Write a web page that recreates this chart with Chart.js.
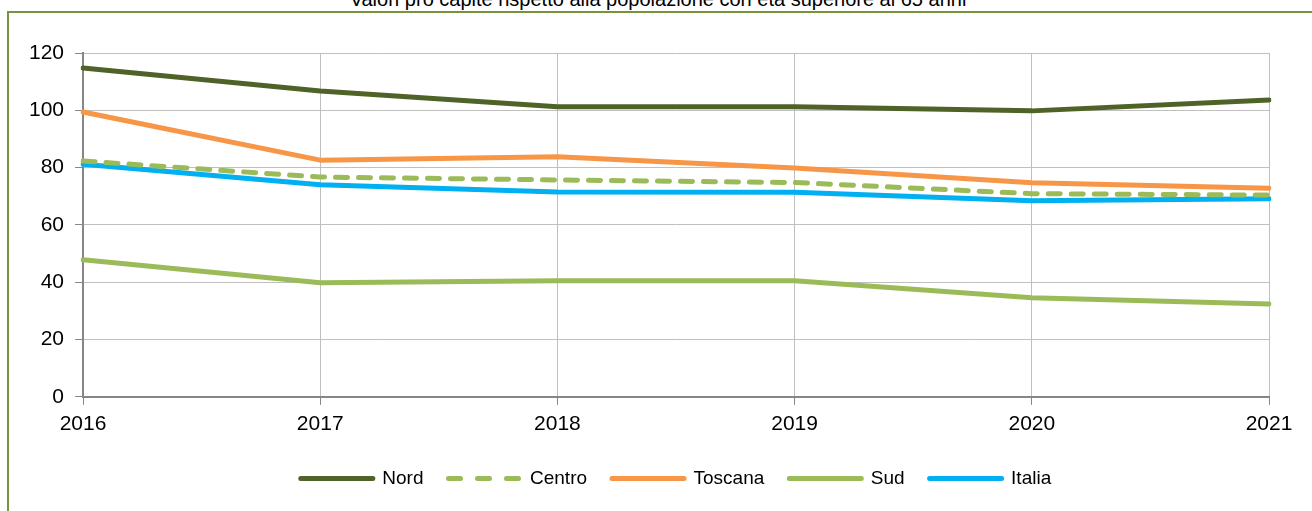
<!DOCTYPE html>
<html>
<head>
<meta charset="utf-8">
<script src="https://cdn.jsdelivr.net/npm/chart.js@4.4.1/dist/chart.umd.min.js"></script>
<style>
    html, body { margin: 0; padding: 0; background: #fff; overflow: hidden; }
    #wrap { position: relative; width: 1312px; height: 511px; }
    #title { position: absolute; top: -12px; left: 0; width: 1316px; text-align: center;
             font-family: "Liberation Sans", Arial, sans-serif; font-size: 20px; color: #000; white-space: nowrap; }
    #frame { position: absolute; left: 7px; top: 11px; right: -4px; bottom: -4px;
             border-top: 2px solid #77933C; border-left: 2px solid #77933C; }
    #chart { position: absolute; left: 0; top: 0; }
</style>
</head>
<body>
<div id="wrap">
    <div id="title">Valori pro capite rispetto alla popolazione con età superiore ai 65 anni</div>
    <div id="frame"></div>
    <canvas id="chart" width="1312" height="511"></canvas>
</div>
<script>
const years = ['2016', '2017', '2018', '2019', '2020', '2021'];
const nord = [114.8, 106.7, 101.2, 101.2, 99.8, 103.6];
const centro = [82.3, 76.7, 75.7, 74.8, 70.9, 70.4];
const toscana = [99.4, 82.6, 83.8, 79.9, 74.7, 72.8];
const sud = [47.8, 39.8, 40.5, 40.5, 34.6, 32.4];
const italia = [81.2, 74.0, 71.5, 71.4, 68.4, 69.1];

const FONT = '"Liberation Sans", Arial, sans-serif';

function serie(label, data, color, dash) {
    return {
        label, data,
        borderColor: color, backgroundColor: color,
        borderWidth: 5,
        borderDash: dash || [],
        borderCapStyle: 'round',
        borderJoinStyle: 'round',
        pointRadius: 0, pointHoverRadius: 0,
        tension: 0, fill: false
    };
}

// legenda centrata sull'area del grafico, come in Excel
const centerLegend = {
    id: 'centerLegend',
    afterLayout(chart) {
        const lg = chart.legend, ca = chart.chartArea;
        if (!lg || !ca) return;
        const shift = (ca.left + ca.right) / 2 - (lg.left + lg.right) / 2;
        lg.left += shift;
        lg.right += shift;
    }
};

const ctx = document.getElementById('chart').getContext('2d');
new Chart(ctx, {
    type: 'line',
    data: {
        labels: years,
        datasets: [
            serie('Nord', nord, '#4F6228'),
            serie('Centro', centro, '#9BBB59', [12, 11]),
            serie('Toscana', toscana, '#F79646'),
            serie('Sud', sud, '#9BBB59'),
            serie('Italia', italia, '#00B0F0')
        ]
    },
    plugins: [centerLegend],
    options: {
        responsive: false, animation: false,
        layout: { padding: { left: 18, right: 43, top: 53, bottom: 13 } },
        plugins: {
            tooltip: { enabled: false },
            legend: {
                position: 'bottom',
                labels: {
                    usePointStyle: true, pointStyle: 'line', pointStyleWidth: 72,
                    padding: 25, color: '#000',
                    font: { family: FONT, size: 19 },
                    generateLabels(chart) {
                        const items = Chart.defaults.plugins.legend.labels.generateLabels(chart);
                        items.forEach(it => {
                            const ds = chart.data.datasets[it.datasetIndex];
                            it.lineDash = ds.borderDash.length ? [12, 17] : [];
                            it.lineCap = 'round';
                            it.lineWidth = 5;
                            it.strokeStyle = ds.borderColor;
                        });
                        return items;
                    }
                }
            }
        },
        scales: {
            x: {
                offset: false,
                grid: { color: '#BFBFBF', lineWidth: 1, tickLength: 8, tickColor: '#868686' },
                border: { color: '#868686', width: 2 },
                ticks: { color: '#000', font: { family: FONT, size: 21 }, padding: 7, maxRotation: 0 }
            },
            y: {
                min: 0, max: 120,
                grid: { color: '#BFBFBF', lineWidth: 1, tickLength: 8, tickColor: '#868686' },
                border: { color: '#868686', width: 2 },
                ticks: { stepSize: 20, color: '#000', font: { family: FONT, size: 21 }, padding: 11 }
            }
        }
    }
});
</script>
</body>
</html>
